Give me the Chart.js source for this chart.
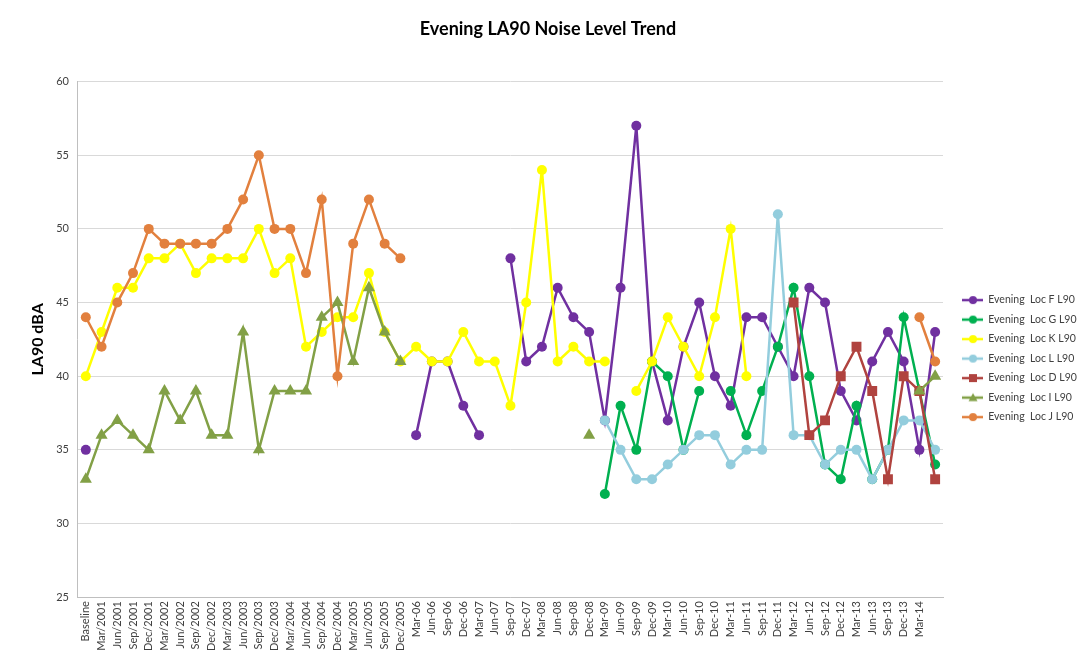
<!DOCTYPE html>
<html>
<head>
<meta charset="utf-8">
<script src="https://cdn.jsdelivr.net/npm/chart.js@4.4.1/dist/chart.umd.min.js"></script>
<style>
  html, body { margin: 0; padding: 0; background: #fff; }
  #wrap { width: 1080px; height: 656px; position: relative; }
</style>
</head>
<body>
<div id="wrap"><canvas id="noiseChart"></canvas></div>
<script>
// categories (last one has no label in the original)
const labels = ['Baseline',
  'Mar/2001', 'Jun/2001', 'Sep/2001', 'Dec/2001',
  'Mar/2002', 'Jun/2002', 'Sep/2002', 'Dec/2002',
  'Mar/2003', 'Jun/2003', 'Sep/2003', 'Dec/2003',
  'Mar/2004', 'Jun/2004', 'Sep/2004', 'Dec/2004',
  'Mar/2005', 'Jun/2005', 'Sep/2005', 'Dec/2005',
  'Mar-06', 'Jun-06', 'Sep-06', 'Dec-06',
  'Mar-07', 'Jun-07', 'Sep-07', 'Dec-07',
  'Mar-08', 'Jun-08', 'Sep-08', 'Dec-08',
  'Mar-09', 'Jun-09', 'Sep-09', 'Dec-09',
  'Mar-10', 'Jun-10', 'Sep-10', 'Dec-10',
  'Mar-11', 'Jun-11', 'Sep-11', 'Dec-11',
  'Mar-12', 'Jun-12', 'Sep-12', 'Dec-12',
  'Mar-13', 'Jun-13', 'Sep-13', 'Dec-13',
  'Mar-14', ''];

const _ = null;

// LA90 values per location, one per category
const locF = [35, _, _, _, _, _, _, _, _, _, _, _, _, _, _, _, _, _, _, _, _,
  36, 41, 41, 38, 36, _, 48, 41, 42, 46, 44, 43, 37, 46, 57, 41, 37, 42, 45, 40,
  38, 44, 44, 42, 40, 46, 45, 39, 37, 41, 43, 41, 35, 43];
const locG = [_, _, _, _, _, _, _, _, _, _, _, _, _, _, _, _, _, _, _, _, _,
  _, _, _, _, _, _, _, _, _, _, _, _, 32, 38, 35, 41, 40, 35, 39, _,
  39, 36, 39, 42, 46, 40, 34, 33, 38, 33, 35, 44, 39, 34];
const locK = [40, 43, 46, 46, 48, 48, 49, 47, 48, 48, 48, 50, 47, 48, 42, 43, 44, 44, 47, 43, 41,
  42, 41, 41, 43, 41, 41, 38, 45, 54, 41, 42, 41, 41, _, 39, 41, 44, 42, 40, 44,
  50, 40, _, _, _, _, _, _, _, _, _, _, _, _];
const locL = [_, _, _, _, _, _, _, _, _, _, _, _, _, _, _, _, _, _, _, _, _,
  _, _, _, _, _, _, _, _, _, _, _, _, 37, 35, 33, 33, 34, 35, 36, 36,
  34, 35, 35, 51, 36, 36, 34, 35, 35, 33, 35, 37, 37, 35];
const locD = [_, _, _, _, _, _, _, _, _, _, _, _, _, _, _, _, _, _, _, _, _,
  _, _, _, _, _, _, _, _, _, _, _, _, _, _, _, _, _, _, _, _,
  _, _, _, _, 45, 36, 37, 40, 42, 39, 33, 40, 39, 33];
const locI = [33, 36, 37, 36, 35, 39, 37, 39, 36, 36, 43, 35, 39, 39, 39, 44, 45, 41, 46, 43, 41,
  _, _, _, _, _, _, _, _, _, _, _, 36, _, _, _, _, _, _, _, _,
  _, _, _, _, _, _, _, _, _, _, _, _, 39, 40];
const locJ = [44, 42, 45, 47, 50, 49, 49, 49, 49, 50, 52, 55, 50, 50, 47, 52, 40, 49, 52, 49, 48,
  _, _, _, _, _, _, _, _, _, _, _, _, _, _, _, _, _, _, _, _,
  _, _, _, _, _, _, _, _, _, _, _, _, 44, 41];

const yTicks = [25, 30, 35, 40, 45, 50, 55, 60];

const series = [
  { name: 'Evening  Loc F L90', values: locF, color: '#7030A0', marker: 'circle', r: 5 },
  { name: 'Evening  Loc G L90', values: locG, color: '#00B050', marker: 'circle', r: 5 },
  { name: 'Evening  Loc K L90', values: locK, color: '#FFFF00', marker: 'circle', r: 5 },
  { name: 'Evening  Loc L L90', values: locL, color: '#93CDDD', marker: 'circle', r: 5 },
  { name: 'Evening  Loc D L90', values: locD, color: '#B0433F', marker: 'rect', r: 7 },
  { name: 'Evening  Loc I L90', values: locI, color: '#82A046', marker: 'triangle', r: 7 },
  { name: 'Evening  Loc J L90', values: locJ, color: '#E2803E', marker: 'circle', r: 5 }
];

const FONT = 'Lato, "Liberation Sans", sans-serif';

// line+marker icons for the legend (left part transparent = indent)
function legendIcon(s) {
  const c = document.createElement('canvas');
  c.width = 31; c.height = 12;
  const ctx = c.getContext('2d');
  ctx.strokeStyle = s.color;
  ctx.lineWidth = 2.5;
  ctx.beginPath();
  ctx.moveTo(10, 6); ctx.lineTo(31, 6);
  ctx.stroke();
  ctx.fillStyle = s.color;
  ctx.beginPath();
  if (s.marker === 'rect') {
    ctx.rect(17, 2, 8, 8);
  } else if (s.marker === 'triangle') {
    ctx.moveTo(21, 1.5); ctx.lineTo(25.5, 9.5); ctx.lineTo(16.5, 9.5); ctx.closePath();
  } else {
    ctx.arc(21, 6, 4, 0, Math.PI * 2);
  }
  ctx.fill();
  return c;
}

const icons = series.map(legendIcon);

const datasets = series.map((s, i) => ({
  label: s.name,
  data: s.values,
  borderColor: s.color,
  backgroundColor: s.color,
  borderWidth: 2.5,
  pointStyle: s.marker,
  pointRadius: s.r,
  pointHoverRadius: s.r,
  pointBorderWidth: 0,
  spanGaps: false,
  tension: 0,
  order: series.length - i   // later series on top, as in Excel
}));

new Chart(document.getElementById('noiseChart'), {
  type: 'line',
  data: { labels: labels, datasets: datasets },
  options: {
    responsive: true,
    maintainAspectRatio: false,
    animation: false,
    layout: { padding: { left: 16, right: 0, top: 0, bottom: 1 } },
    plugins: {
      title: {
        display: true,
        text: 'Evening LA90 Noise Level Trend',
        color: '#000',
        font: { family: FONT, size: 18, weight: 'bold' },
        padding: { top: 18, bottom: 42 }
      },
      legend: {
        position: 'right',
        maxWidth: 137,
        title: { display: true, text: ' ', padding: { top: 48, bottom: 1 }, font: { size: 11 } },
        labels: {
          usePointStyle: true,
          pointStyleWidth: 31,
          padding: 9,
          color: '#404040',
          font: { family: FONT, size: 10.5 },
          sort: (a, b) => a.datasetIndex - b.datasetIndex,
          generateLabels: function (chart) {
            const items = Chart.defaults.plugins.legend.labels.generateLabels(chart);
            items.forEach(it => { it.pointStyle = icons[it.datasetIndex]; });
            return items;
          }
        }
      },
      tooltip: { enabled: false }
    },
    scales: {
      x: {
        offset: true,
        grid: { display: false, drawTicks: false },
        border: { color: '#BFBFBF' },
        ticks: {
          autoSkip: false,
          maxRotation: 90,
          minRotation: 90,
          padding: 4,
          color: '#404040',
          font: { family: FONT, size: 11 }
        }
      },
      y: {
        min: 25,
        max: 60,
        afterBuildTicks: axis => { axis.ticks = yTicks.map(v => ({ value: v })); },
        grid: { color: '#D9D9D9', lineWidth: 1, drawTicks: false },
        border: { color: '#BFBFBF' },
        ticks: {
          padding: 9,
          color: '#404040',
          font: { family: FONT, size: 11 }
        },
        title: {
          display: true,
          text: 'LA90 dBA',
          color: '#000',
          font: { family: FONT, size: 16, weight: 'bold' },
          padding: { top: 12, bottom: 0 }
        }
      }
    }
  }
});
</script>
</body>
</html>
